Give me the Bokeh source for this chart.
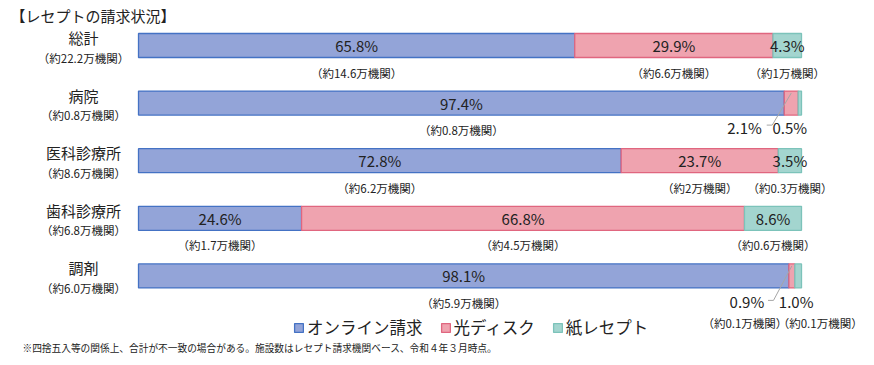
from bokeh.plotting import figure
from bokeh.models import Range1d, ColumnDataSource, Legend, LegendItem
from bokeh.core.properties import value
from bokeh.embed import file_html
from bokeh.resources import INLINE

# ---------------- data ----------------
categories = ["総計", "病院", "医科診療所", "歯科診療所", "調剤"]
facility_counts = ["（約22.2万機関）", "（約0.8万機関）", "（約8.6万機関）", "（約6.8万機関）", "（約6.0万機関）"]
series_names = ["オンライン請求", "光ディスク", "紙レセプト"]
online = [65.8, 97.4, 72.8, 24.6, 98.1]
disk = [29.9, 2.1, 23.7, 66.8, 0.9]
paper = [4.3, 0.5, 3.5, 8.6, 1.0]
online_counts = ["（約14.6万機関）", "（約0.8万機関）", "（約6.2万機関）", "（約1.7万機関）", "（約5.9万機関）"]
disk_counts = ["（約6.6万機関）", "", "（約2万機関）", "（約4.5万機関）", "（約0.1万機関）"]
paper_counts = ["（約1万機関）", "", "（約0.3万機関）", "（約0.6万機関）", "（約0.1万機関）"]
title_text = "【レセプトの請求状況】"
footnote_text = "※四捨五入等の関係上、合計が不一致の場合がある。施設数はレセプト請求機関ベース、令和４年３月時点。"
callout_rows = [1, 4]   # rows whose small segments are labelled outside the bar

# ---------------- styling ----------------
FONT = value("Noto Sans CJK JP")
TXT = "#222222"
fills = ["#93A4D8", "#EFA3AF", "#A3D5CF"]
lines = ["#4472C4", "#E0667F", "#7CC3BA"]

W, H = 866, 360
PX_X = 6.63     # px per percent
PX_Y = 57.6     # px per row
x0 = -138 / PX_X
y0 = -45 / PX_Y

def dx(px):
    return px / PX_X

def dy(px):
    return px / PX_Y

p = figure(width=W, height=H, output_backend="svg", toolbar_location=None,
           x_range=Range1d(x0, x0 + W / PX_X), y_range=Range1d(y0 + H / PX_Y, y0),
           min_border=0, outline_line_color=None)
p.axis.visible = False
p.grid.visible = False

rows = list(range(len(categories)))
left1 = [0] * len(rows)
right1 = online
left2 = online
right2 = [a + b for a, b in zip(online, disk)]
left3 = right2
right3 = [a + b + c for a, b, c in zip(online, disk, paper)]

renderers = []
for (l, r), fc, lc in zip([(left1, right1), (left2, right2), (left3, right3)], fills, lines):
    src = ColumnDataSource(dict(y=rows, left=l, right=r))
    rr = p.hbar(y="y", left="left", right="right", height=dy(24), source=src,
                fill_color=fc, line_color=lc, line_width=1.3)
    renderers.append(rr)

# category labels
p.text(x=[dx(83 - 138)] * len(rows), y=[r - dy(8) for r in rows], text=categories,
       text_font=FONT, text_font_size="15px", text_align="center", text_baseline="middle", text_color=TXT)
p.text(x=[dx(83 - 138)] * len(rows), y=[r + dy(12) for r in rows], text=facility_counts,
       text_font=FONT, text_font_size="11.5px", text_align="center", text_baseline="middle", text_color=TXT)

# in-bar percentages and counts
pct_x, pct_y, pct_t = [], [], []
cnt_x, cnt_y, cnt_t = [], [], []
for i in rows:
    segs = [(left1[i], right1[i], online[i], online_counts[i]),
            (left2[i], right2[i], disk[i], disk_counts[i]),
            (left3[i], right3[i], paper[i], paper_counts[i])]
    for k, (l, r, v, c) in enumerate(segs):
        cx = (l + r) / 2
        if i in callout_rows and k > 0:
            continue
        pct_x.append(cx); pct_y.append(i); pct_t.append(f"{v:.1f}%")
        if c:
            cnt_x.append(cx); cnt_y.append(i + dy(27)); cnt_t.append(c)

# callouts for small segments
lead_xs, lead_ys = [], []
pct_off = {1: [(-46.7, 24), (-10, 24)], 4: [(-45, 26), (-2, 26)]}
cnt_off = {4: [(-47, 47), (22, 47)]}
lead_off = {1: (-19, 22), 4: (-18.4, 24.5)}
for i in callout_rows:
    segs = [(left2[i], right2[i], disk[i], disk_counts[i]),
            (left3[i], right3[i], paper[i], paper_counts[i])]
    for k, (l, r, v, c) in enumerate(segs):
        cx = (l + r) / 2
        ox, oy = pct_off[i][k]
        pct_x.append(cx + dx(ox)); pct_y.append(i + dy(oy)); pct_t.append(f"{v:.1f}%")
        if c and i in cnt_off:
            cox, coy = cnt_off[i][k]
            cnt_x.append(cx + dx(cox)); cnt_y.append(i + dy(coy)); cnt_t.append(c)
    pc = (left2[i] + right2[i]) / 2
    lx, ly = lead_off[i]
    lead_xs.append([pc, pc + dx(lx), pc + dx(lx - 5.5)])
    lead_ys.append([i - dy(10), i + dy(ly), i + dy(ly)])

p.multi_line(xs=lead_xs, ys=lead_ys, line_color="#A6A6A6", line_width=1)
p.text(x=pct_x, y=pct_y, text=pct_t, text_font=FONT, text_font_size="15px",
       text_align="center", text_baseline="middle", text_color=TXT)
p.text(x=cnt_x, y=cnt_y, text=cnt_t, text_font=FONT, text_font_size="11.5px",
       text_align="center", text_baseline="middle", text_color=TXT)

# title & footnote
p.text(x=[dx(10 - 138)], y=[dy(15 - 45)], text=[title_text], text_font=FONT, text_font_size="15px",
       text_align="left", text_baseline="middle", text_color=TXT)
p.text(x=[dx(22 - 138)], y=[dy(347.5 - 45)], text=[footnote_text], text_font=FONT, text_font_size="9.7px",
       text_align="left", text_baseline="middle", text_color=TXT)

legend = Legend(items=[LegendItem(label=n, renderers=[r]) for n, r in zip(series_names, renderers)],
                orientation="horizontal", location=(293, H - 339),
                label_text_font="Noto Sans CJK JP", label_text_font_size="16.5px", label_text_color=TXT,
                glyph_width=11, glyph_height=11, label_standoff=3, spacing=17,
                padding=0, margin=0, border_line_color=None, background_fill_alpha=0,
                label_height=20)
p.add_layout(legend, "center")

open("out.html", "w").write(file_html(p, INLINE))
